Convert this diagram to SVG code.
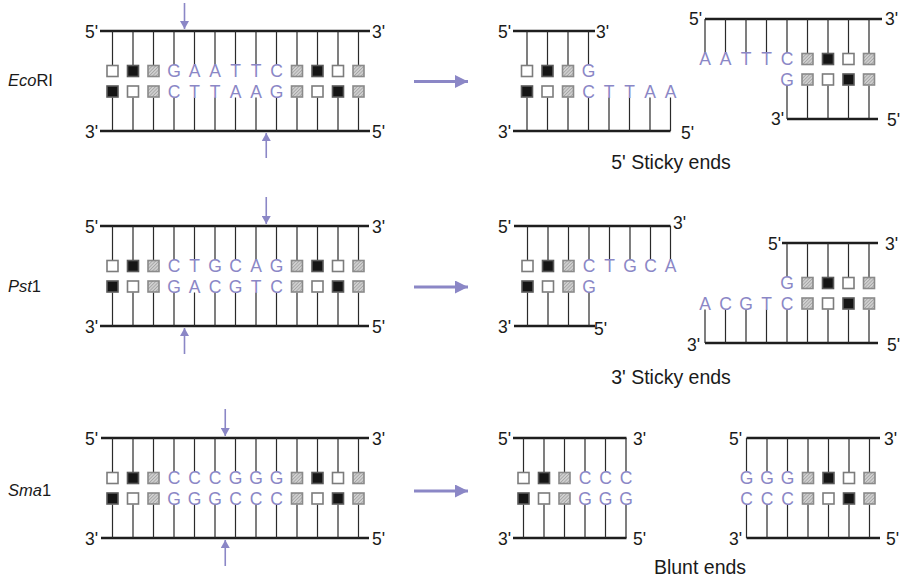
<svg xmlns="http://www.w3.org/2000/svg" xmlns:xlink="http://www.w3.org/1999/xlink" width="900" height="582" viewBox="0 0 900 582">
  <style>
    .strand { stroke: #1e1e1e; stroke-width: 2.6; fill: none; }
    .tick { stroke: #2a2a2a; stroke-width: 1.2; fill: none; }
    .end { font-family: "Liberation Sans", Arial, sans-serif; font-size: 17.5px; fill: #1a1a1a; }
    .base { font-family: "Liberation Sans", Arial, sans-serif; font-size: 17.5px; fill: #8b87c6; text-anchor: middle; }
    .enz { font-family: "Liberation Sans", Arial, sans-serif; font-size: 16.5px; fill: #1a1a1a; }
    .cap { font-family: "Liberation Sans", Arial, sans-serif; font-size: 19.5px; fill: #1a1a1a; text-anchor: middle; }
    .cut { stroke: #8b87c6; stroke-width: 1.6; fill: none; }
    .big { stroke: #8b87c6; stroke-width: 3; fill: none; }
  </style>
  <defs>
    <pattern id="hatch" patternUnits="userSpaceOnUse" width="2.4" height="2.4" patternTransform="rotate(45)">
      <rect width="2.4" height="2.4" fill="#cfcfcf"/>
      <line x1="0" y1="0" x2="0" y2="2.4" stroke="#8a8a8a" stroke-width="1"/>
    </pattern>
    <rect id="w" x="-5.5" y="-5.5" width="11" height="11" fill="#ffffff" stroke="#7c7c7c" stroke-width="1.6"/>
    <rect id="b" x="-5.5" y="-5.5" width="11" height="11" fill="#151515" stroke="#5a5a5a" stroke-width="1.6"/>
    <rect id="h" x="-5.5" y="-5.5" width="11" height="11" fill="url(#hatch)" stroke="#8a8a8a" stroke-width="1.6"/>
    <marker id="cutHead" markerUnits="userSpaceOnUse" markerWidth="8" markerHeight="9" viewBox="0 0 8 9" refX="8" refY="4.5" orient="auto">
      <path d="M0,0 L8,4.5 L0,9 z" fill="#8b87c6"/>
    </marker>
    <marker id="bigHead" markerUnits="userSpaceOnUse" markerWidth="13" markerHeight="13" viewBox="0 0 13 13" refX="13" refY="6.5" orient="auto">
      <path d="M0,0 L13,6.5 L0,13 z" fill="#8b87c6"/>
    </marker>
  </defs>

  <rect width="900" height="582" fill="#ffffff"/>

  <!-- enzyme names -->
  <g id="label-ecori"><text class="enz" x="8" y="86"><tspan font-style="italic">Eco</tspan>RI</text></g>
  <g id="label-pst1"><text class="enz" x="8" y="292"><tspan font-style="italic">Pst</tspan>1</text></g>
  <g id="label-sma1"><text class="enz" x="8" y="496"><tspan font-style="italic">Sma</tspan>1</text></g>

  <!-- EcoRI recognition site, intact duplex -->
  <g id="ecori-site">
    <path class="strand" d="M100 31H370M100 131H370"/>
    <path class="tick" d="M112.5 31V65M133 31V65M153.5 31V65M174 31V65M194.5 31V65M215 31V65M235.5 31V65M256 31V65M276.5 31V65M297 31V65M317.5 31V65M338 31V65M358.5 31V65
                          M112.5 97.5V131M133 97.5V131M153.5 97.5V131M174 97.5V131M194.5 97.5V131M215 97.5V131M235.5 97.5V131M256 97.5V131M276.5 97.5V131M297 97.5V131M317.5 97.5V131M338 97.5V131M358.5 97.5V131"/>
    <use href="#w" x="112.5" y="71"/><use href="#b" x="133" y="71"/><use href="#h" x="153.5" y="71"/>
    <use href="#h" x="297" y="71"/><use href="#b" x="317.5" y="71"/><use href="#w" x="338" y="71"/><use href="#h" x="358.5" y="71"/>
    <use href="#b" x="112.5" y="91.5"/><use href="#w" x="133" y="91.5"/><use href="#h" x="153.5" y="91.5"/>
    <use href="#h" x="297" y="91.5"/><use href="#w" x="317.5" y="91.5"/><use href="#b" x="338" y="91.5"/><use href="#h" x="358.5" y="91.5"/>
    <text class="base" x="174 194.5 215 235.5 256 276.5" y="77.3">GAATTC</text>
    <text class="base" x="174 194.5 215 235.5 256 276.5" y="97.8">CTTAAG</text>
    <text class="end" x="98" y="37.5" text-anchor="end">5'</text>
    <text class="end" x="372" y="37.5">3'</text>
    <text class="end" x="98" y="137.5" text-anchor="end">3'</text>
    <text class="end" x="372" y="137.5">5'</text>
  </g>

  <!-- EcoRI products -->
  <g id="ecori-left">
    <path class="strand" d="M513 31H595M513 131H670.5"/>
    <path class="tick" d="M527 31V65M547.5 31V65M568 31V65M588.5 31V65
                          M527 97.5V131M547.5 97.5V131M568 97.5V131M588.5 97.5V131M609 97.5V131M629.5 97.5V131M650 97.5V131M670.5 97.5V131"/>
    <use href="#w" x="527" y="71"/><use href="#b" x="547.5" y="71"/><use href="#h" x="568" y="71"/>
    <use href="#b" x="527" y="91.5"/><use href="#w" x="547.5" y="91.5"/><use href="#h" x="568" y="91.5"/>
    <text class="base" x="588.5" y="77.3">G</text>
    <text class="base" x="588.5 609 629.5 650 670.5" y="97.8">CTTAA</text>
    <text class="end" x="511" y="37.5" text-anchor="end">5'</text>
    <text class="end" x="596" y="37.5">3'</text>
    <text class="end" x="511" y="137.5" text-anchor="end">3'</text>
    <text class="end" x="681" y="138.5">5'</text>
  </g>
  <g id="ecori-right">
    <path class="strand" d="M705 19H882M787 119H878"/>
    <path class="tick" d="M705 19V53M725.5 19V53M746 19V53M766.5 19V53M787 19V53M807.5 19V53M828 19V53M848.5 19V53M869 19V53
                          M787 85.5V119M807.5 85.5V119M828 85.5V119M848.5 85.5V119M869 85.5V119"/>
    <use href="#h" x="807.5" y="59"/><use href="#b" x="828" y="59"/><use href="#w" x="848.5" y="59"/><use href="#h" x="869" y="59"/>
    <use href="#h" x="807.5" y="79.5"/><use href="#w" x="828" y="79.5"/><use href="#b" x="848.5" y="79.5"/><use href="#h" x="869" y="79.5"/>
    <text class="base" x="705 725.5 746 766.5 787" y="65.3">AATTC</text>
    <text class="base" x="787" y="85.8">G</text>
    <text class="end" x="702" y="24.5" text-anchor="end">5'</text>
    <text class="end" x="885" y="25">3'</text>
    <text class="end" x="784" y="125" text-anchor="end">3'</text>
    <text class="end" x="887" y="126">5'</text>
  </g>
  <text class="cap" x="671" y="169">5' Sticky ends</text>

  <!-- Pst1 recognition site, intact duplex -->
  <g id="pst1-site">
    <path class="strand" d="M100 226H369M100 326H369"/>
    <path class="tick" d="M112.5 226V260M133 226V260M153.5 226V260M174 226V260M194.5 226V260M215 226V260M235.5 226V260M256 226V260M276.5 226V260M297 226V260M317.5 226V260M338 226V260M358.5 226V260
                          M112.5 292.5V326M133 292.5V326M153.5 292.5V326M174 292.5V326M194.5 292.5V326M215 292.5V326M235.5 292.5V326M256 292.5V326M276.5 292.5V326M297 292.5V326M317.5 292.5V326M338 292.5V326M358.5 292.5V326"/>
    <use href="#w" x="112.5" y="266"/><use href="#b" x="133" y="266"/><use href="#h" x="153.5" y="266"/>
    <use href="#h" x="297" y="266"/><use href="#b" x="317.5" y="266"/><use href="#w" x="338" y="266"/><use href="#h" x="358.5" y="266"/>
    <use href="#b" x="112.5" y="286.5"/><use href="#w" x="133" y="286.5"/><use href="#h" x="153.5" y="286.5"/>
    <use href="#h" x="297" y="286.5"/><use href="#w" x="317.5" y="286.5"/><use href="#b" x="338" y="286.5"/><use href="#h" x="358.5" y="286.5"/>
    <text class="base" x="174 194.5 215 235.5 256 276.5" y="272.3">CTGCAG</text>
    <text class="base" x="174 194.5 215 235.5 256 276.5" y="292.8">GACGTC</text>
    <text class="end" x="98" y="232.5" text-anchor="end">5'</text>
    <text class="end" x="372" y="232.5">3'</text>
    <text class="end" x="98" y="332.5" text-anchor="end">3'</text>
    <text class="end" x="372" y="332.5">5'</text>
  </g>

  <!-- Pst1 products -->
  <g id="pst1-left">
    <path class="strand" d="M514 226H670.5M514 326H595"/>
    <path class="tick" d="M527.5 226V260M548 226V260M568.5 226V260M589 226V260M609.5 226V260M630 226V260M650.5 226V260M670.5 226V260
                          M527.5 292.5V326M548 292.5V326M568.5 292.5V326M589 292.5V326"/>
    <use href="#w" x="527.5" y="266"/><use href="#b" x="548" y="266"/><use href="#h" x="568.5" y="266"/>
    <use href="#b" x="527.5" y="286.5"/><use href="#w" x="548" y="286.5"/><use href="#h" x="568.5" y="286.5"/>
    <text class="base" x="589 609.5 630 650.5 670.5" y="272.3">CTGCA</text>
    <text class="base" x="589" y="292.8">G</text>
    <text class="end" x="511" y="232.5" text-anchor="end">5'</text>
    <text class="end" x="673" y="228.5">3'</text>
    <text class="end" x="511" y="333" text-anchor="end">3'</text>
    <text class="end" x="594" y="334.5">5'</text>
  </g>
  <g id="pst1-right">
    <path class="strand" d="M782 243H878M705 343H878"/>
    <path class="tick" d="M787 243V277M807.5 243V277M828 243V277M848.5 243V277M869 243V277
                          M705 309.5V343M725.5 309.5V343M746 309.5V343M766.5 309.5V343M787 309.5V343M807.5 309.5V343M828 309.5V343M848.5 309.5V343M869 309.5V343"/>
    <use href="#h" x="807.5" y="283"/><use href="#b" x="828" y="283"/><use href="#w" x="848.5" y="283"/><use href="#h" x="869" y="283"/>
    <use href="#h" x="807.5" y="303.5"/><use href="#w" x="828" y="303.5"/><use href="#b" x="848.5" y="303.5"/><use href="#h" x="869" y="303.5"/>
    <text class="base" x="787" y="289.3">G</text>
    <text class="base" x="705 725.5 746 766.5 787" y="309.8">ACGTC</text>
    <text class="end" x="781" y="249.5" text-anchor="end">5'</text>
    <text class="end" x="885" y="250">3'</text>
    <text class="end" x="700" y="350.5" text-anchor="end">3'</text>
    <text class="end" x="887" y="350.5">5'</text>
  </g>
  <text class="cap" x="671" y="384">3' Sticky ends</text>

  <!-- Sma1 recognition site, intact duplex -->
  <g id="sma1-site">
    <path class="strand" d="M101 438H369M101 538H369"/>
    <path class="tick" d="M112.5 438V472M133 438V472M153.5 438V472M174 438V472M194.5 438V472M215 438V472M235.5 438V472M256 438V472M276.5 438V472M297 438V472M317.5 438V472M338 438V472M358.5 438V472
                          M112.5 504.5V538M133 504.5V538M153.5 504.5V538M174 504.5V538M194.5 504.5V538M215 504.5V538M235.5 504.5V538M256 504.5V538M276.5 504.5V538M297 504.5V538M317.5 504.5V538M338 504.5V538M358.5 504.5V538"/>
    <use href="#w" x="112.5" y="478"/><use href="#b" x="133" y="478"/><use href="#h" x="153.5" y="478"/>
    <use href="#h" x="297" y="478"/><use href="#b" x="317.5" y="478"/><use href="#w" x="338" y="478"/><use href="#h" x="358.5" y="478"/>
    <use href="#b" x="112.5" y="498.5"/><use href="#w" x="133" y="498.5"/><use href="#h" x="153.5" y="498.5"/>
    <use href="#h" x="297" y="498.5"/><use href="#w" x="317.5" y="498.5"/><use href="#b" x="338" y="498.5"/><use href="#h" x="358.5" y="498.5"/>
    <text class="base" x="174 194.5 215 235.5 256 276.5" y="484.3">CCCGGG</text>
    <text class="base" x="174 194.5 215 235.5 256 276.5" y="504.8">GGGCCC</text>
    <text class="end" x="98" y="444.5" text-anchor="end">5'</text>
    <text class="end" x="372" y="444.5">3'</text>
    <text class="end" x="98" y="544.5" text-anchor="end">3'</text>
    <text class="end" x="372" y="544.5">5'</text>
  </g>

  <!-- Sma1 products -->
  <g id="sma1-left">
    <path class="strand" d="M513 438H626.5M513 538H626.5"/>
    <path class="tick" d="M523.5 438V472M544 438V472M564.5 438V472M585 438V472M605.5 438V472M626 438V472
                          M523.5 504.5V538M544 504.5V538M564.5 504.5V538M585 504.5V538M605.5 504.5V538M626 504.5V538"/>
    <use href="#w" x="523.5" y="478"/><use href="#b" x="544" y="478"/><use href="#h" x="564.5" y="478"/>
    <use href="#b" x="523.5" y="498.5"/><use href="#w" x="544" y="498.5"/><use href="#h" x="564.5" y="498.5"/>
    <text class="base" x="585 605.5 626" y="484.3">CCC</text>
    <text class="base" x="585 605.5 626" y="504.8">GGG</text>
    <text class="end" x="511" y="444.5" text-anchor="end">5'</text>
    <text class="end" x="633" y="444.5">3'</text>
    <text class="end" x="511" y="544.5" text-anchor="end">3'</text>
    <text class="end" x="633" y="544.5">5'</text>
  </g>
  <g id="sma1-right">
    <path class="strand" d="M746.5 438H880M746.5 538H880"/>
    <path class="tick" d="M746.5 438V472M767 438V472M787.5 438V472M808 438V472M828.5 438V472M849 438V472M869.5 438V472
                          M746.5 504.5V538M767 504.5V538M787.5 504.5V538M808 504.5V538M828.5 504.5V538M849 504.5V538M869.5 504.5V538"/>
    <use href="#h" x="808" y="478"/><use href="#b" x="828.5" y="478"/><use href="#w" x="849" y="478"/><use href="#h" x="869.5" y="478"/>
    <use href="#h" x="808" y="498.5"/><use href="#w" x="828.5" y="498.5"/><use href="#b" x="849" y="498.5"/><use href="#h" x="869.5" y="498.5"/>
    <text class="base" x="746.5 767 787.5" y="484.3">GGG</text>
    <text class="base" x="746.5 767 787.5" y="504.8">CCC</text>
    <text class="end" x="742" y="444.5" text-anchor="end">5'</text>
    <text class="end" x="884" y="444.5">3'</text>
    <text class="end" x="742" y="544.5" text-anchor="end">3'</text>
    <text class="end" x="886" y="544.5">5'</text>
  </g>
  <text class="cap" x="700" y="574">Blunt ends</text>

  <!-- cut-site markers and reaction arrows -->
  <g id="connectors">
    <line class="cut" x1="184.5" y1="3" x2="184.5" y2="29" marker-end="url(#cutHead)"/>
    <line class="cut" x1="266.25" y1="158" x2="266.25" y2="133" marker-end="url(#cutHead)"/>
    <line class="cut" x1="266.25" y1="197" x2="266.25" y2="224" marker-end="url(#cutHead)"/>
    <line class="cut" x1="184.5" y1="354" x2="184.5" y2="328" marker-end="url(#cutHead)"/>
    <line class="cut" x1="225.25" y1="409" x2="225.25" y2="436" marker-end="url(#cutHead)"/>
    <line class="cut" x1="225.25" y1="566" x2="225.25" y2="540" marker-end="url(#cutHead)"/>
    <line class="big" x1="414" y1="81.5" x2="468" y2="81.5" marker-end="url(#bigHead)"/>
    <line class="big" x1="414" y1="287" x2="468" y2="287" marker-end="url(#bigHead)"/>
    <line class="big" x1="414" y1="491" x2="468" y2="491" marker-end="url(#bigHead)"/>
  </g>
</svg>
